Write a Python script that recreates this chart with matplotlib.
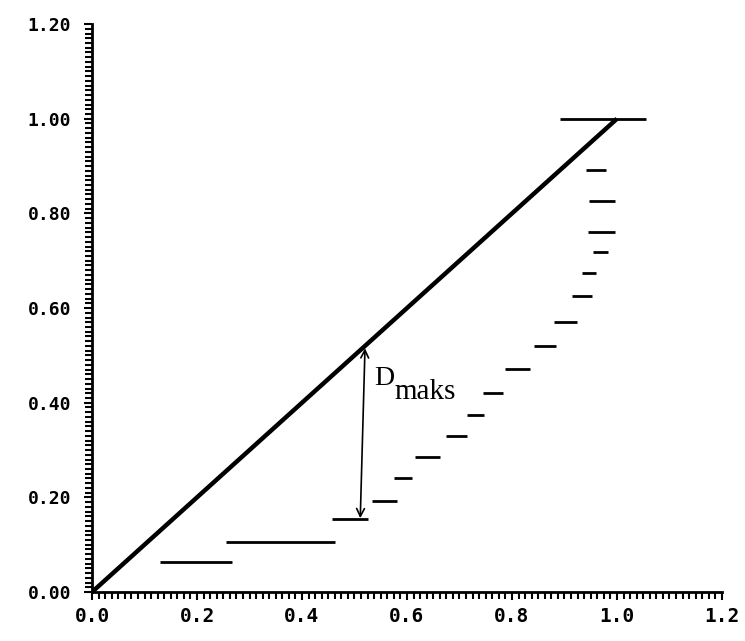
import matplotlib
matplotlib.use("Agg")
import matplotlib.pyplot as plt
from matplotlib.ticker import MultipleLocator, FixedLocator

# diagonal (theoretical distribution)
diag_x = [0.0, 1.0]
diag_y = [0.0, 1.0]

# empirical step levels: start x, end x, level
step_x0 = [0.130, 0.255, 0.458, 0.533, 0.575, 0.615, 0.674, 0.714, 0.745, 0.787,
           0.842, 0.880, 0.914, 0.933, 0.954, 0.945, 0.947, 0.941, 0.891]
step_x1 = [0.267, 0.463, 0.526, 0.581, 0.610, 0.663, 0.714, 0.747, 0.783, 0.834,
           0.884, 0.924, 0.952, 0.960, 0.983, 0.996, 0.996, 0.979, 1.055]
step_y = [0.063, 0.106, 0.154, 0.193, 0.240, 0.285, 0.330, 0.374, 0.420, 0.471,
          0.520, 0.571, 0.626, 0.674, 0.718, 0.761, 0.827, 0.892, 1.000]

# D_maks arrow (top on diagonal, bottom on step)
d_top = (0.520, 0.515)
d_bot = (0.511, 0.156)

xticks = [0.0, 0.2, 0.4, 0.6, 0.8, 1.0, 1.2]
xlabels = ["0.0", "0.2", "0.4", "0.6", "0.8", "1.0", "1.2"]
yticks = [0.0, 0.2, 0.4, 0.6, 0.8, 1.0, 1.2]
ylabels = ["0.00", "0.20", "0.40", "0.60", "0.80", "1.00", "1.20"]

fig = plt.figure(figsize=(7.45, 6.41), dpi=100)
ax = fig.add_axes([0.1235, 0.0764, 0.8456, 0.886])

ax.plot(diag_x, diag_y, color="black", lw=3.2, solid_capstyle="butt")
ax.hlines(step_y, step_x0, step_x1, color="black", lw=2)

ax.annotate("", xy=d_bot, xytext=d_top,
            arrowprops=dict(arrowstyle="<->", lw=1.2, color="black",
                            shrinkA=0, shrinkB=0, mutation_scale=14))
ax.text(0.538, 0.437, "D", fontsize=20, family="Liberation Serif", va="baseline")
ax.text(0.577, 0.408, "maks", fontsize=21, family="Liberation Serif", va="baseline")

ax.set_xlim(0, 1.2)
ax.set_ylim(0, 1.2)
ax.spines["top"].set_visible(False)
ax.spines["right"].set_visible(False)
ax.spines["left"].set_linewidth(2)
ax.spines["bottom"].set_linewidth(2)

ax.xaxis.set_major_locator(FixedLocator(xticks))
ax.yaxis.set_major_locator(FixedLocator(yticks))
ax.set_xticklabels(xlabels)
ax.set_yticklabels(ylabels)
ax.xaxis.set_minor_locator(MultipleLocator(0.0125))
ax.yaxis.set_minor_locator(MultipleLocator(0.01))

ax.tick_params(axis="both", which="major", direction="out", length=6, width=1.5)
ax.tick_params(axis="both", which="minor", direction="out", length=5, width=1.5)
ax.tick_params(axis="y", which="major", pad=9)
ax.tick_params(axis="x", which="major", pad=5)
for lab in ax.get_xticklabels():
    lab.set_family("DejaVu Sans Mono")
    lab.set_fontweight("bold")
    lab.set_fontsize(14)
for lab in ax.get_yticklabels():
    lab.set_family("DejaVu Sans Mono")
    lab.set_fontweight("bold")
    lab.set_fontsize(13)

fig.savefig("out.png", dpi=100)
